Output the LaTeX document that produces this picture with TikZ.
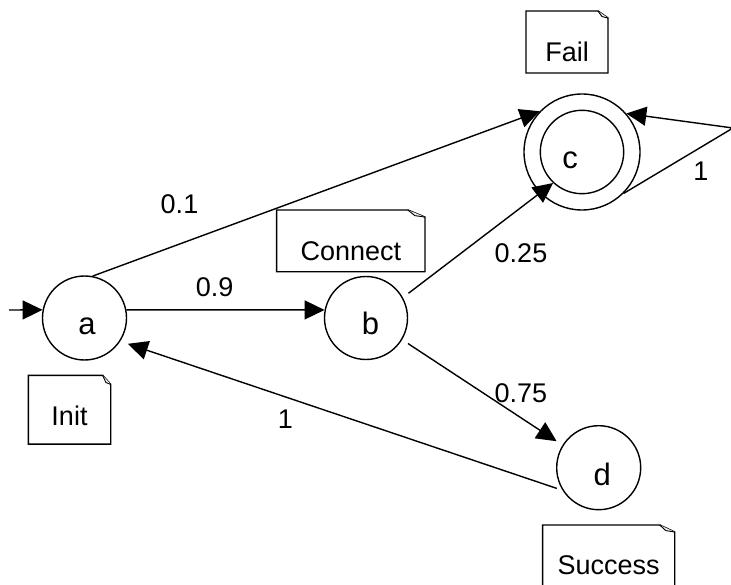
\documentclass[tikz,border=0pt]{standalone}
\usepackage{fontspec}
\setmainfont{Liberation Sans}
\usetikzlibrary{arrows.meta}
% outline of a note with a folded top-right corner
\newcommand\dogear[3]{%
  \draw (#1.south west) -- (#1.north west) -- ([xshift=-#2]#1.north east)
        -- ([yshift=-#3]#1.north east) -- (#1.south east) -- cycle;
  \draw[line width=0.9pt, fill=gray!15] ([xshift=-#2]#1.north east)
        -- ([xshift=-0.6*#2, yshift=-0.8*#3]#1.north east)
        -- ([yshift=-#3]#1.north east);
}
\begin{document}
\begin{tikzpicture}[x=1pt, y=-1pt, line width=1.4pt,
  state/.style={circle, draw, inner sep=0pt, minimum size=#1},
  txt/.style={font=\fontsize{27}{32}\selectfont, inner sep=0pt},
  statelbl/.style={font=\fontsize{31}{36}\selectfont, inner sep=0pt},
  note/.style={txt, inner ysep=0pt},
  trans/.style={-{Triangle[length=20pt, width=19pt]}}]
\useasboundingbox (0,0) rectangle (731,585);

% states
\node[state=84] (a) at (84.5,318) {};
\node[state=83] (b) at (366,318) {};
\node[state=116] (c) at (582,152) {};
\node[state=83.4] (ci) at (582,152) {};
\node[state=84] (d) at (598.7,467.7) {};
\node[statelbl] (la) at (87,326) {a};
\node[statelbl] (lb) at (370.5,323.3) {b};
\node[statelbl] (lc) at (570,160.5) {c};
\node[statelbl] (ld) at (602.3,474) {d};

% notes
\node[note, minimum width=81pt, text height=49.7pt, text depth=17.6pt] (ninit) at (69.5,409.7) {Init};
\node[note, minimum width=147pt, text height=49.3pt, text depth=11pt] (nconn) at (350.8,240.9) {Connect};
\node[note, minimum width=80.6pt, text height=49.6pt, text depth=11pt] (nfail) at (567,42) {Fail};
\node[note, minimum width=130.7pt, text height=48.3pt, text depth=11.7pt] (nsucc) at (608.7,555.7) {Success};
\dogear{ninit}{8pt}{9pt}
\dogear{nconn}{17pt}{7pt}
\dogear{nfail}{10pt}{7pt}
\dogear{nsucc}{15pt}{7pt}

% transitions
\coordinate (start) at (9,310);
\coordinate (loop) at (733,128);
\draw[trans] (start) -- (a.169);
\draw[trans] (a.11) -- (b.169);
\draw[trans] (a.79) -- (c.136);
\draw[trans, shorten <=7pt] (b.29) -- (ci.227);
\draw[trans, shorten <=7pt, shorten >=7pt] (b.-31) -- (d.148);
\draw[trans, shorten <=6pt, shorten >=8pt] (d.212) -- (a.-33);
\draw[trans] (c.-45) -- (loop) -- (c.41);

% transition probabilities
\node[txt] (p1) at (179.5,204.2) {0.1};
\node[txt] (p2) at (214.7,287.5) {0.9};
\node[txt] (p3) at (521,253.3) {0.25};
\node[txt] (p4) at (520.8,392.8) {0.75};
\node[txt] (p5) at (285.3,419.7) {1};
\node[txt] (p6) at (700.8,170.8) {1};
\end{tikzpicture}
\end{document}
